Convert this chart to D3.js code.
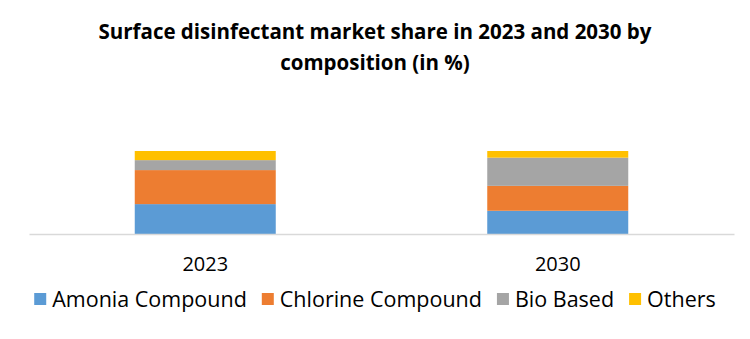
<!DOCTYPE html>
<html>
<head>
<meta charset="utf-8">
<script src="https://cdn.jsdelivr.net/npm/d3@7"></script>
<style>
  body { margin: 0; background: #ffffff; }
  svg { display: block; font-family: "Open Sans", sans-serif; }
</style>
</head>
<body>
<div id="chart"></div>
<script>
// data (percent)
var years = ['2023', '2030'];
var seriesNames = ['Amonia Compound', 'Chlorine Compound', 'Bio Based', 'Others'];
var amonia = [36, 28];
var chlorine = [41, 30];
var bioBased = [12, 34];
var others = [11, 8];
var colors = ['#5B9BD5', '#ED7D31', '#A5A5A5', '#FFC000'];

drawChart('chart');

function drawChart(divName) {
    var svgwidth = 750, svgheight = 339;
    var svg = d3.select('#' + divName).append('svg')
        .attr('width', svgwidth)
        .attr('height', svgheight);

    var margin = {top: 151, left: 29, right: 16, bottom: 105};
    var w = svgwidth - margin.left - margin.right;
    var h = svgheight - margin.top - margin.bottom;

    // title, two lines
    var title = svg.append('text')
        .attr('text-anchor', 'middle')
        .style('font-size', '20.5px')
        .style('font-weight', 'bold')
        .attr('fill', '#000000');
    title.append('tspan').attr('x', svgwidth / 2).attr('y', 39)
        .text('Surface disinfectant market share in 2023 and 2030 by');
    title.append('tspan').attr('x', svgwidth / 2).attr('y', 70)
        .text('composition  (in %)');

    var rows = years.map(function (y, i) {
        return {year: y, a: amonia[i], c: chlorine[i], b: bioBased[i], o: others[i]};
    });
    var stack = d3.stack().keys(['a', 'c', 'b', 'o']);
    var layers = stack(rows);

    var x = d3.scaleBand().domain(years).range([0, w]).paddingInner(0.6).paddingOuter(0.3);
    var y = d3.scaleLinear().domain([0, 100]).range([h, 0]);

    var g = svg.append('g')
        .attr('transform', 'translate(' + margin.left + ',' + margin.top + ')');

    g.selectAll('g.layer')
        .data(layers)
        .enter()
        .append('g')
        .attr('class', 'layer')
        .attr('fill', function (d, i) { return colors[i]; })
        .selectAll('rect')
        .data(function (d) { return d; })
        .enter()
        .append('rect')
        .attr('x', function (d) { return x(d.data.year); })
        .attr('y', function (d) { return y(d[1]); })
        .attr('width', x.bandwidth())
        .attr('height', function (d) { return y(d[0]) - y(d[1]); });

    // x axis
    var xAxis = g.append('g')
        .attr('transform', 'translate(0,' + h + ')')
        .call(d3.axisBottom(x).tickSize(0).tickPadding(23));
    xAxis.select('.domain').attr('stroke', '#D9D9D9').attr('stroke-width', 1.3);
    xAxis.selectAll('text')
        .style('font-size', '20px')
        .style('font-family', '"Open Sans", sans-serif')
        .attr('fill', '#000000');

    // legend
    var legend = svg.append('g').attr('transform', 'translate(0,299)');
    var items = legend.selectAll('g')
        .data(seriesNames)
        .enter()
        .append('g');
    items.append('rect')
        .attr('width', 12).attr('height', 12)
        .attr('y', -6)
        .attr('fill', function (d, i) { return colors[i]; });
    items.append('text')
        .attr('x', 18)
        .attr('dy', '0.35em')
        .style('font-size', '21.5px')
        .attr('fill', '#000000')
        .text(function (d) { return d; });
    var gap = 15, widths = [];
    items.each(function () { widths.push(this.getBBox().width); });
    var total = d3.sum(widths) + gap * (widths.length - 1);
    var cur = (svgwidth - total) / 2;
    items.attr('transform', function (d, i) {
        var t = 'translate(' + cur + ',0)';
        cur += widths[i] + gap;
        return t;
    });
}
</script>
</body>
</html>
